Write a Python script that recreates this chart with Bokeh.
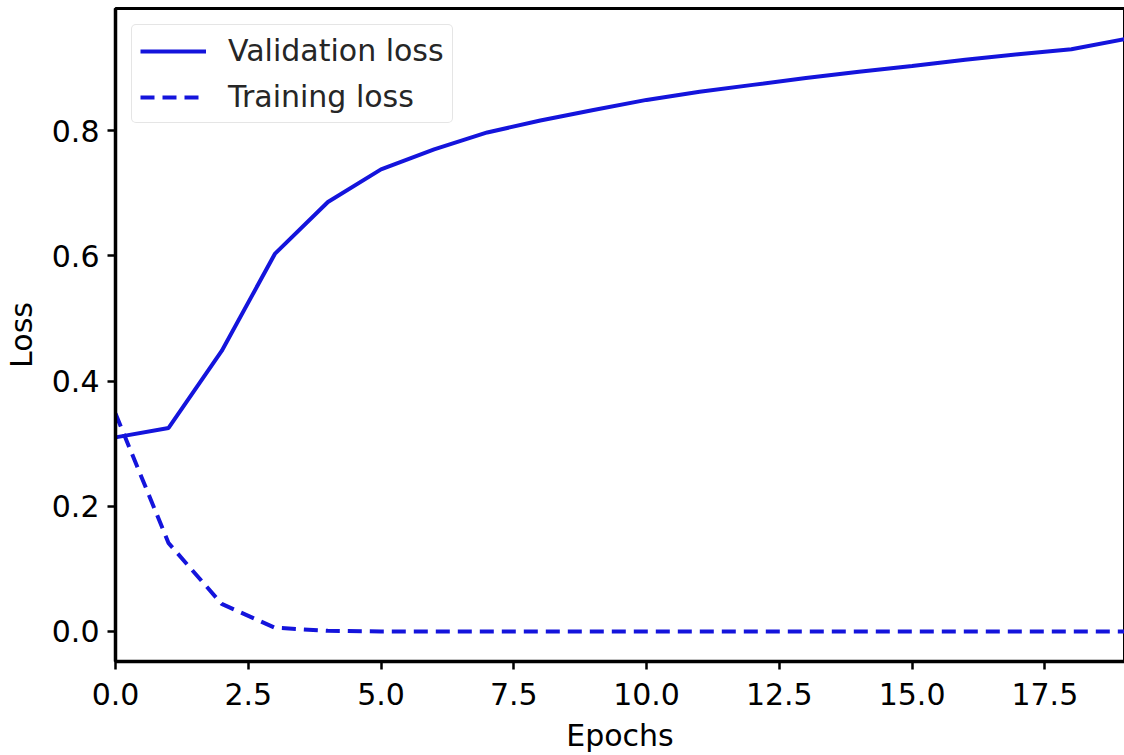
from bokeh.plotting import figure
from bokeh.models import Range1d, FixedTicker, NumeralTickFormatter, Legend, LegendItem
from bokeh.embed import file_html
from bokeh.resources import INLINE

epochs = list(range(20))
val_loss = [0.310, 0.325, 0.448, 0.603, 0.686, 0.738, 0.770, 0.797, 0.816, 0.833,
            0.849, 0.862, 0.873, 0.884, 0.894, 0.903, 0.913, 0.922, 0.930, 0.946]
train_loss = [0.348, 0.141, 0.044, 0.006, 0.001, 0.0, 0.0, 0.0, 0.0, 0.0,
              0.0, 0.0, 0.0, 0.0, 0.0, 0.0, 0.0, 0.0, 0.0, 0.0]
x_ticks = [0.0, 2.5, 5.0, 7.5, 10.0, 12.5, 15.0, 17.5]
y_ticks = [0.0, 0.2, 0.4, 0.6, 0.8]

FONT = "DejaVu Sans"

p = figure(width=1125, height=755, output_backend="svg", toolbar_location=None,
           x_range=Range1d(0, 19), y_range=Range1d(-0.048, 0.995),
           min_border_left=100, min_border_right=1, min_border_top=8, min_border_bottom=90)

r1 = p.line(epochs, val_loss, line_color="#1414dc", line_width=4)
r2 = p.line(epochs, train_loss, line_color="#1414dc", line_width=4, line_dash="14 8")

p.grid.visible = False
p.outline_line_color = "black"
p.outline_line_width = 3
p.background_fill_color = "white"
p.border_fill_color = "white"

for ax in (p.xaxis[0], p.yaxis[0]):
    ax.axis_line_color = "black"
    ax.axis_line_width = 3.5
    ax.major_tick_line_color = "black"
    ax.major_tick_line_width = 2.5
    ax.major_tick_out = 8
    ax.major_tick_in = 0
    ax.minor_tick_line_color = None
    ax.major_label_text_font = FONT
    ax.major_label_text_font_size = "30px"
    ax.major_label_text_color = "black"
    ax.axis_label_text_font = FONT
    ax.axis_label_text_font_size = "30px"
    ax.axis_label_text_font_style = "normal"
    ax.axis_label_text_color = "black"

p.xaxis[0].ticker = FixedTicker(ticks=x_ticks)
p.yaxis[0].ticker = FixedTicker(ticks=y_ticks)
p.xaxis[0].formatter = NumeralTickFormatter(format="0.0")
p.yaxis[0].formatter = NumeralTickFormatter(format="0.0")
p.xaxis[0].axis_label = "Epochs"
p.yaxis[0].axis_label = "Loss"
p.xaxis[0].major_label_standoff = 13
p.xaxis[0].axis_label_standoff = 10
p.yaxis[0].major_label_standoff = 8
p.yaxis[0].axis_label_standoff = 10

legend = Legend(items=[LegendItem(label="Validation loss", renderers=[r1]),
                       LegendItem(label="Training loss", renderers=[r2])],
                location="top_left")
legend.margin = 16
legend.padding = 8
legend.spacing = 11
legend.glyph_width = 66
legend.glyph_height = 32
legend.label_height = 32
legend.label_standoff = 22
legend.label_text_font = FONT
legend.label_text_font_size = "30px"
legend.label_text_color = "#262626"
legend.border_line_color = "#cccccc"
legend.border_line_width = 1.5
legend.border_radius = 5
legend.background_fill_color = "white"
legend.background_fill_alpha = 0.85
p.add_layout(legend)

open("out.html", "w").write(file_html(p, INLINE))
